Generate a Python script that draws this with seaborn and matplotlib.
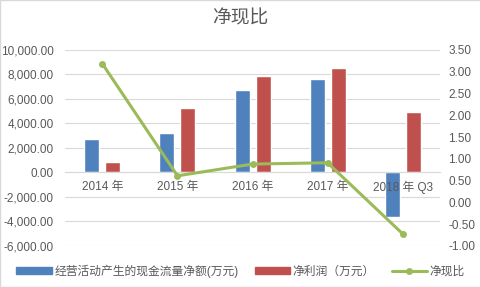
import matplotlib
matplotlib.use("Agg")
import matplotlib.pyplot as plt
import matplotlib.transforms as mtransforms
from matplotlib.patches import Patch, Rectangle
from matplotlib.lines import Line2D
import seaborn as sns
import pandas as pd
import numpy as np

years = ['2014 年', '2015 年', '2016 年', '2017 年', '2018 年 Q3']
cash_flow = [2730, 3200, 6700, 7600, -3630]
net_profit = [860, 5300, 7900, 8500, 4960]
ratio = [3.18, 0.61, 0.88, 0.91, -0.72]

name_cash = '经营活动产生的现金流量净额(万元)'
name_profit = '净利润（万元）'
name_ratio = '净现比'

blue = '#4F81BD'
red = '#C0504D'
green = '#9BBB59'
grey = '#595959'

sns.set_style("white")
plt.rcParams['font.family'] = ['Liberation Sans', 'Noto Sans CJK SC', 'DejaVu Sans']

df = pd.DataFrame({
    'year': years * 2,
    'value': cash_flow + net_profit,
    'series': [name_cash] * 5 + [name_profit] * 5,
})

fig = plt.figure(figsize=(4.81, 2.87), dpi=100)
ax = fig.add_axes([0.135, 0.143, 0.78, 0.683])
sns.barplot(data=df, x='year', y='value', hue='series', palette=[blue, red],
            width=0.56, gap=0.286, ax=ax, legend=False, saturation=1)

ax.set_ylim(-6000, 10000)
ax.set_yticks(np.arange(-6000, 10001, 2000))
ax.set_yticklabels([f'{v:,.2f}' for v in np.arange(-6000, 10001, 2000)])
ax.set_xlim(-0.5, 4.5)
ax.grid(axis='y', color='#D9D9D9', linewidth=0.8)
ax.set_axisbelow(True)
for s in ['top', 'right', 'left']:
    ax.spines[s].set_visible(False)
ax.spines['bottom'].set_position(('data', 0))
ax.spines['bottom'].set_color('#D9D9D9')
ax.tick_params(axis='both', length=0, labelsize=8.5, colors=grey)
ax.tick_params(axis='y', pad=8)
ax.set_xticklabels([])
ax.set_xlabel('')
ax.set_ylabel('')

# category labels drawn on top of the bars, just under the zero line
offset = mtransforms.offset_copy(ax.transData, fig=fig, x=0, y=-6, units='points')
for i, yr in enumerate(years):
    ax.text(i, 0, yr, transform=offset, ha='center', va='top', fontsize=8.5,
            color=grey, zorder=10)

ax2 = ax.twinx()
sns.lineplot(x=np.arange(5), y=ratio, ax=ax2, color=green, linewidth=2.2,
             marker='o', markersize=5, markeredgewidth=0)
ax2.set_ylim(-1.0, 3.5)
ax2.set_yticks(np.arange(-1.0, 3.51, 0.5))
ax2.set_yticklabels([f'{v:.2f}' for v in np.arange(-1.0, 3.51, 0.5)])
for s in ax2.spines.values():
    s.set_visible(False)
ax2.tick_params(axis='y', length=0, labelsize=8.5, colors=grey, pad=6)
ax2.set_xlim(-0.5, 4.5)

fig.text(0.5, 0.935, name_ratio, ha='center', va='center', fontsize=13.5, color=grey)

handles = [Patch(color=blue), Patch(color=red),
           Line2D([0], [0], color=green, linewidth=2.2, marker='o', markersize=5, markeredgewidth=0)]
fig.legend(handles, [name_cash, name_profit, name_ratio], loc='center',
           bbox_to_anchor=(0.5, 0.055), ncol=3, frameon=False, fontsize=8.5,
           handlelength=3.0, handleheight=0.6, columnspacing=1.4, handletextpad=0.2,
           labelcolor=grey)

fig.patches.append(Rectangle((0, 0), 1, 1, transform=fig.transFigure, fill=False,
                             edgecolor='#D9D9D9', linewidth=1))

fig.savefig('out.png', dpi=100)
